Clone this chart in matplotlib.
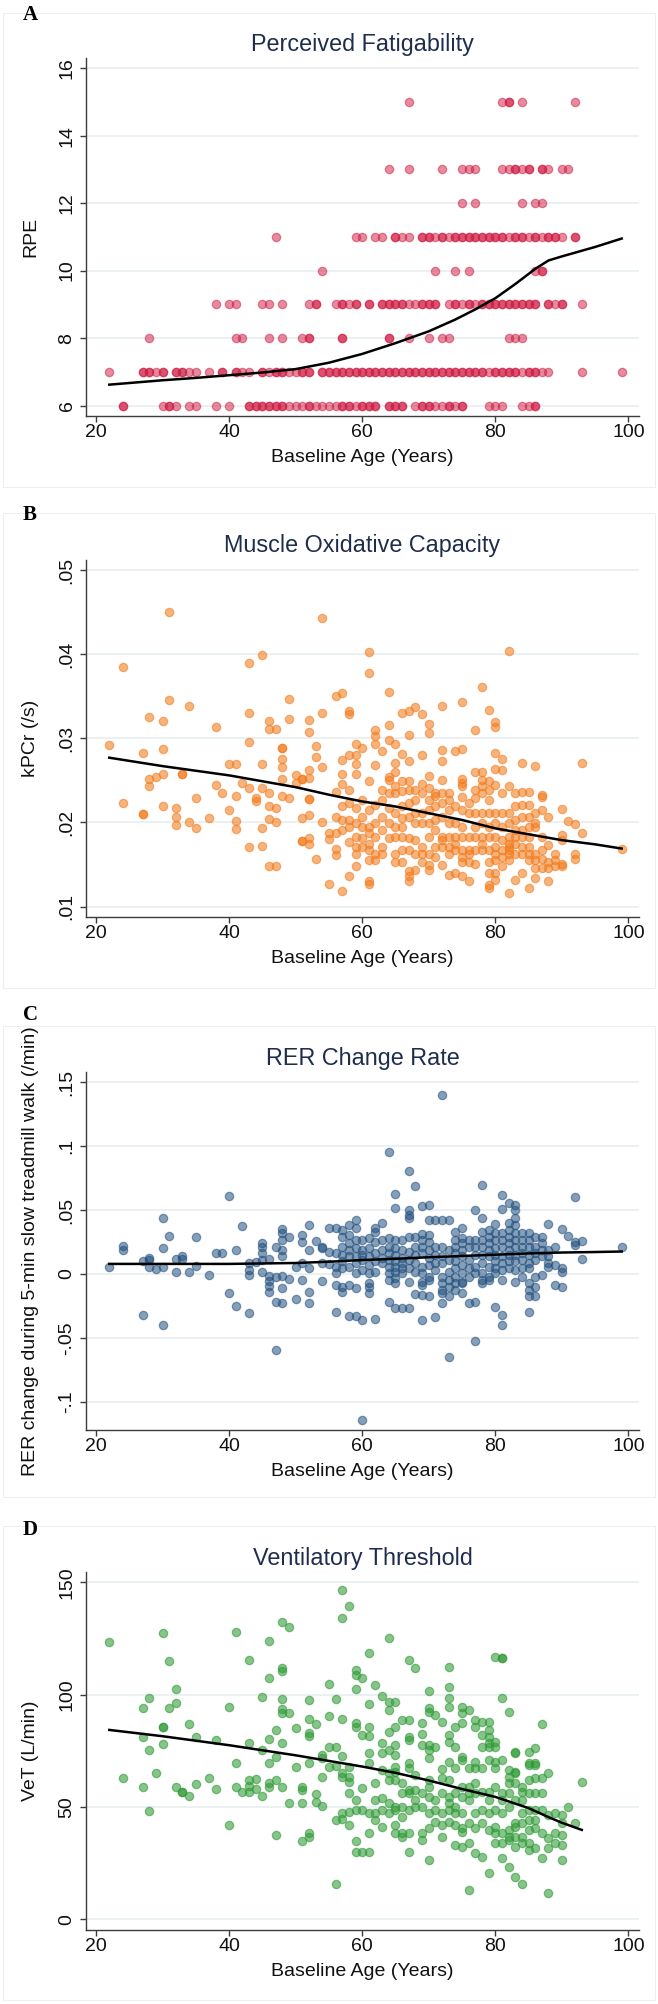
import numpy as np
import matplotlib
matplotlib.use("Agg")
import matplotlib.pyplot as plt
from matplotlib.patches import Rectangle

# ====================== DATA ======================
x_ticks = [20, 40, 60, 80, 100]
x_ticklabels = ["20", "40", "60", "80", "100"]
x_label = "Baseline Age (Years)"

# ---- Panel A: Perceived Fatigability (RPE is integer) ----
rpe_levels_A = [6, 7, 8, 9, 10, 11, 12, 13, 15]
ages_by_rpe_A = [
    [24, 24, 30, 31, 31, 32, 34, 35, 38, 40, 43, 43, 44, 44, 45, 45, 46, 46, 47, 47, 48, 48, 49, 50,
     51, 52, 52, 53, 54, 55, 56, 57, 57, 58, 58, 59, 60, 60, 61, 61, 62, 62, 64, 64, 65, 65, 66, 66,
     68, 69, 69, 70, 70, 71, 72, 73, 73, 74, 75, 75, 79, 80, 81, 84, 85, 86, 86],
    [22, 27, 27, 28, 28, 29, 30, 30, 32, 32, 33, 33, 34, 35, 37, 39, 39, 41, 41, 42, 43, 45, 45, 46,
     47, 47, 48, 48, 49, 50, 51, 51, 52, 52, 54, 54, 55, 55, 56, 56, 57, 57, 58, 58, 59, 59, 60, 60,
     61, 61, 62, 62, 63, 63, 64, 64, 65, 65, 66, 66, 67, 67, 68, 68, 69, 69, 70, 70, 71, 71, 72, 72,
     73, 73, 74, 74, 75, 75, 76, 76, 77, 77, 78, 78, 79, 80, 80, 81, 81, 82, 82, 83, 83, 84, 85, 85,
     86, 86, 87, 88, 93, 99],
    [28, 41, 42, 46, 48, 51, 52, 52, 57, 57, 64, 64, 67, 70, 72, 73, 82, 83, 84],
    [38, 40, 41, 45, 46, 48, 52, 53, 53, 56, 57, 57, 58, 59, 59, 61, 61, 63, 63, 64, 64, 65, 65, 66,
     66, 67, 68, 69, 69, 70, 70, 71, 71, 73, 74, 74, 75, 76, 76, 77, 78, 78, 79, 79, 80, 80, 81, 81,
     82, 82, 83, 83, 84, 84, 85, 85, 86, 86, 88, 88, 89, 90, 90, 93],
    [54, 71, 74, 76, 86, 87, 87],
    [47, 59, 60, 62, 63, 65, 65, 66, 67, 69, 69, 70, 70, 71, 72, 72, 73, 74, 74, 75, 75, 76, 76, 77,
     77, 78, 78, 79, 79, 80, 80, 81, 81, 82, 83, 83, 84, 84, 85, 86, 86, 87, 88, 88, 89, 89, 90, 92, 92],
    [75, 77, 84, 86, 87],
    [64, 67, 72, 75, 76, 77, 81, 82, 83, 83, 84, 85, 85, 87, 87, 88, 90, 91],
    [67, 81, 82, 82, 84, 92],
]
fit_age_A = [22, 30, 35, 40, 45, 50, 55, 60, 65, 70, 74, 77, 80, 83, 86, 88, 90, 95, 99]
fit_rpe_A = [6.62, 6.75, 6.82, 6.9, 6.98, 7.08, 7.27, 7.53, 7.85, 8.2, 8.55, 8.85, 9.18, 9.6, 10.05,
             10.3, 10.42, 10.7, 10.95]

# ---- Panel B: Muscle Oxidative Capacity, kPCr (values in 1/1000 s^-1) ----
ages_B = [22, 24, 27, 28, 29, 30, 31, 32, 33, 34, 35, 37, 38, 39, 40, 41, 42, 43, 44, 45, 46, 47, 48,
          49, 50, 51, 52, 53, 54, 55, 56, 57, 58, 59, 60, 61, 62, 63, 64, 65, 66, 67, 68, 69, 70, 71,
          72, 73, 74, 75, 76, 77, 78, 79, 80, 81, 82, 83, 84, 85, 86, 87, 88, 89, 90, 91, 92, 93, 99]
kpcr_B_milli = [
    [29.2], [38.5, 22.3], [28.3, 21.0, 21.0], [32.5, 25.2, 24.3], [25.4], [32.1, 28.7, 25.8, 22.0],
    [45.0, 34.6], [21.7, 20.7, 19.7], [25.8, 25.8], [33.8, 20.0], [22.9, 19.4], [20.5], [31.4, 24.4],
    [23.5], [27.0, 21.5], [27.0, 23.2, 20.2, 19.2], [24.7], [38.9, 33.0, 29.6, 24.1, 17.1],
    [22.9, 22.5], [39.9, 27.0, 24.1, 19.4, 17.2], [32.1, 31.1, 23.5, 21.9, 20.4, 14.8],
    [31.1, 21.7, 20.0, 14.8], [28.8, 28.8, 27.6, 26.6, 25.2, 23.1], [34.7, 32.3, 22.9], [25.6, 24.7],
    [25.2, 25.2, 20.5, 17.8, 17.8], [32.2, 30.7, 26.2, 25.3, 22.8, 22.8, 20.9, 18.1, 17.5],
    [29.1, 27.8, 15.7], [44.3, 33.0, 26.6, 20.1], [18.8, 18.0, 12.7],
    [35.0, 23.6, 20.7, 18.7, 16.9, 16.1],
    [35.4, 27.4, 25.8, 24.6, 21.9, 20.3, 19.1, 11.8],
    [33.2, 32.9, 28.0, 23.9, 22.3, 20.3, 19.5, 17.7, 13.6],
    [29.3, 28.0, 27.0, 25.8, 21.7, 19.9, 18.3, 17.1, 16.3, 14.8],
    [28.8, 22.7, 20.7, 19.5, 18.1, 17.1],
    [40.3, 37.8, 24.9, 21.5, 19.5, 18.7, 17.5, 16.7, 15.5, 13.1, 12.7],
    [31.0, 30.3, 29.3, 26.8, 22.1, 19.9, 18.3, 16.3, 15.5],
    [28.5, 23.9, 22.7, 20.7, 19.1, 17.1, 16.3],
    [35.5, 31.6, 29.8, 25.4, 25.0, 23.5, 21.7, 19.9, 18.1],
    [29.3, 27.1, 26.0, 24.3, 23.5, 21.1, 19.5, 18.3, 16.3, 15.3],
    [33.0, 28.1, 24.9, 23.7, 21.9, 20.5, 19.5, 18.3, 16.7, 15.3],
    [33.2, 30.4, 27.3, 24.9, 23.9, 22.3, 20.7, 18.1, 16.7, 14.2, 13.6, 13.0],
    [33.7, 23.9, 22.7, 21.1, 19.9, 17.9, 16.3, 14.4],
    [32.9, 28.0, 24.6, 23.5, 21.1, 19.9, 17.1, 16.3, 15.3],
    [31.7, 30.6, 25.5, 24.1, 22.7, 21.5, 19.9, 18.3, 16.3, 15.0, 14.4],
    [23.5, 23.1, 21.9, 20.3, 19.1, 17.1, 15.9],
    [33.8, 28.6, 27.3, 25.0, 23.5, 22.3, 20.7, 18.3, 17.9, 17.1, 15.0],
    [23.5, 22.7, 21.5, 19.9, 18.3, 17.1, 16.3, 13.8],
    [28.5, 21.9, 19.9, 18.3, 17.5, 16.7, 14.0],
    [34.3, 28.7, 25.2, 24.7, 24.3, 23.0, 21.5, 19.5, 18.3, 16.7, 15.9, 15.3, 13.6],
    [22.3, 21.1, 18.3, 16.7, 16.3, 15.3, 13.0],
    [31.0, 26.0, 23.9, 22.9, 21.1, 19.5, 18.3, 16.7, 15.1],
    [36.1, 26.0, 25.0, 24.3, 23.5, 21.1, 19.9, 18.3, 17.5, 16.7],
    [33.4, 24.9, 23.9, 22.7, 21.1, 19.5, 18.3, 16.7, 15.3, 14.0, 12.6, 12.2],
    [32.0, 31.3, 28.3, 26.4, 24.5, 21.1, 19.9, 18.3, 17.1, 16.3, 15.5, 14.0, 13.2],
    [27.5, 26.2, 23.5, 21.1, 19.5, 17.9, 16.7, 15.9, 14.8],
    [40.4, 24.3, 21.1, 19.9, 18.3, 17.5, 17.1, 16.7, 16.3, 15.5, 11.6],
    [23.5, 21.9, 20.3, 19.1, 18.3, 17.5, 16.3, 13.2],
    [27.1, 23.6, 22.1, 20.7, 19.1, 18.3, 17.1, 16.3, 14.0],
    [23.6, 22.1, 20.7, 19.5, 18.3, 17.1, 16.3, 15.5, 12.2],
    [26.7, 21.1, 19.9, 19.5, 16.3, 15.5, 14.6, 13.4],
    [23.3, 23.0, 21.5, 18.3, 16.7, 15.7, 14.6],
    [20.7, 17.3, 15.3, 14.6, 13.0], [16.3, 15.5, 14.8], [21.6, 18.5, 17.9, 15.1, 14.8], [20.2],
    [19.8, 16.3, 15.7], [27.1, 18.7], [16.8],
]
fit_age_B = [22, 30, 40, 50, 55, 60, 65, 70, 75, 80, 85, 90, 95, 99]
fit_kpcr_B_milli = [27.7, 26.7, 25.6, 24.2, 23.3, 22.5, 21.9, 21.1, 20.3, 19.3, 18.6, 17.9, 17.4, 16.9]

# ---- Panel C: RER change rate (values in 1/1000 per min) ----
ages_C = [22, 24, 27, 28, 29, 30, 31, 32, 33, 34, 35, 37, 38, 39, 40, 41, 42, 43, 44, 45, 46, 47, 48,
          49, 50, 51, 52, 53, 54, 55, 56, 57, 58, 59, 60, 61, 62, 63, 64, 65, 66, 67, 68, 69, 70, 71,
          72, 73, 74, 75, 76, 77, 78, 79, 80, 81, 82, 83, 84, 85, 86, 87, 88, 89, 90, 91, 92, 93, 99]
rer_C_milli = [
    [5.0], [21.9, 18.3], [10, -32], [12.8, 11, 5], [4], [43.9, 20, 5, -40], [30], [11.5, 1.3],
    [13.6, 11.5], [1.3], [29, 6.3], [-1], [16], [16], [61, -14.6], [19, -25], [37.6],
    [8.4, 3.1, -1, -30.8], [9.4], [23.8, 21.4, 16.2, 11, 1.8], [11.5, -1.6, -5.2, -9.4, -13.8],
    [21.4, -2.6, -21.7, -59.5], [35.5, 31.9, 26.6, 18.8, 13.6, -2, -11.2, -23], [28.7, -4.2],
    [5.7, -20], [30.5, 25.3, 8.4, -4.7], [38, 18.8, 4.4, -13.8, -23], [25.6], [21.4, 20, 8.4, -5.2],
    [35.8, 17.5, 7.6],
    [35.7, 16.2, 5.2, 0.5, -8.6, -29.5],
    [34.4, 29.2, 21.4, 14.9, 9.7, 4.4, -9.9, -13.8],
    [38.4, 30.5, 24, 18.8, 13.6, 5.7, -9.1, -32.9],
    [42.3, 35.7, 26.6, 20, 13.6, 8.3, 0.5, -11.2, -32.9],
    [26.6, 18.8, 14.9, 11, 3.1, -36, -114],
    [27.9, 20, 13.6, 7, 0.5, -7.3, -9.9, -15.1],
    [35.7, 33.1, 25.3, 16.2, 9.7, 1.8, -35],
    [39.7, 26.6, 18.8, 12.3, 8.3],
    [95.2, 27.9, 21.4, 16.2, 11, 5.7, 0.5, -4.7, -22.2],
    [62.6, 51.4, 26.6, 20, 14.9, 9.7, 5.7, 1.8, -3.4, -7.3, -26.9],
    [26.6, 18.8, 12.3, 8.3, 4.4, 0.5, -26.9],
    [80.4, 49.6, 46.2, 43.6, 29.2, 17.5, 11, 4.4, -6.5, -26.9],
    [69.1, 29.2, 21.4, 14.9, 8.3, 1.8, -15.7],
    [53.5, 31.3, 26.6, 21.4, 16.2, 5.7, 0.5, -6, -8.6, -16.4, -36],
    [54, 42.3, 30.5, 25.3, 18.8, 12.3, 7, -2.1, -4.7, -17.7],
    [42.3, 21.4, 14.9, 8.3, 3.1, -33.4],
    [140, 42.3, 21.4, 13.6, 8.3, -2.1, -7.3, -12.5, -15.1, -23],
    [42.3, 18.8, 11, 1.8, -4.7, -9.9, -17.7, -64.8],
    [33.1, 26.6, 21.4, 16.2, 9.7, 4.4, -2.1, -7.3, -12.5],
    [35.7, 27.9, 24, 18.8, 13.6, 7, 0.5, -6, -7.3, -15.1],
    [26.6, 21.4, 11, 4.4, -2.1, -23],
    [50.1, 26.6, 21.4, 14.9, 5.7, 0.5, -21.7, -52.5],
    [69.7, 43.6, 33.1, 26.6, 21.4, 14.9, 8.3, 0.5, -4.7, -7.3],
    [34.4, 29.2, 24, 18.8, 13.6, 5.7, -2.1, -4.7],
    [39.1, 31.8, 26.6, 20, 14.9, 9.7, 4.4, 0.5, -25.6],
    [61.8, 50.9, 31.8, 26.6, 21.4, 13.6, 8.3, 3.1, -4.7, -32, -40],
    [55.3, 39.7, 34.4, 29.2, 24, 18.8, 14.9, 9.7, 4.4],
    [54, 50.1, 43.6, 38.4, 31.8, 26.6, 21.4, 14.9, 9.7, 3.1, -6],
    [31.8, 26.6, 21.4, 16.2, 11, 4.4, -2.1],
    [31.8, 26.6, 21.4, 14.9, 8.3, 4.4, -7.3, -12.5, -17.7, -29.5],
    [29.2, 21.4, 16.2, 11, -2.1, -9.9, -17.7],
    [29.2, 24, 18.8, 13.6, -0.8],
    [38.9, 18.8, 13.6, 8.3, 5.7], [20.9, 7, -9.1], [35, 4.4, 1.8, -10.4], [29.7],
    [60.5, 25.3, 22.7], [26.1, 12], [20.9],
]
fit_age_C = [22, 30, 40, 50, 55, 60, 65, 70, 75, 80, 85, 90, 95, 99]
fit_rer_C_milli = [7.8, 7.8, 7.8, 8.5, 9.5, 10.8, 11.8, 13.0, 14.0, 15.0, 16.0, 16.7, 17.1, 17.5]

# ---- Panel D: Ventilatory Threshold (L/min) ----
ages_D = [22, 24, 27, 28, 29, 30, 31, 32, 33, 34, 35, 37, 38, 40, 41, 42, 43, 44, 45, 46, 47, 48, 49,
          50, 51, 52, 53, 54, 55, 56, 57, 58, 59, 60, 61, 62, 63, 64, 65, 66, 67, 68, 69, 70, 71, 72,
          73, 74, 75, 76, 77, 78, 79, 80, 81, 82, 83, 84, 85, 86, 87, 88, 89, 90, 91, 92, 93]
vet_D = [
    [123.6], [63], [94.2, 81, 59], [98.4, 75.4, 48], [65], [127.3, 85.5, 85.5, 77.9], [115, 94.2],
    [102.4, 96.3, 58.8], [56.7, 56.7], [87, 54.9], [81.2, 60.2], [63], [79.8, 58.2], [94.7, 42],
    [127.7, 69.4, 58.8], [56.7], [115.4, 78.3, 62, 59.3, 56.7], [62.3, 58.2], [98.8, 75.4, 54.9],
    [124, 107.3, 80.3, 69.4, 60.5, 58.8], [84.3, 72.4, 62, 37.5],
    [132.5, 111.7, 110.7, 97.9, 93.5, 92, 78.6, 58.8], [130, 91.7, 51.9], [85, 68],
    [58.8, 57.6, 51.9, 35], [97.6, 89, 82.8, 81.6, 69.4, 38.3, 36.8], [86.8, 56, 52.4],
    [73.1, 71.6, 63.5, 50.4], [104.6, 90.5, 76.9, 68], [97.9, 76.9, 68.2, 44.2, 15.6],
    [146.6, 134.3, 89.2, 72.8, 65.0, 63.5, 47.2, 44.5],
    [139.5, 68.0, 63.5, 61.3, 56.1, 47.9, 42.0],
    [111.0, 108.8, 102.4, 87.5, 85.8, 53.1, 48.7, 35.0, 30.1],
    [107.3, 82.0, 58.3, 48.7, 30.1],
    [118.7, 95.8, 85.8, 81.8, 73.9, 69.4, 47.2, 38.3, 30.1],
    [104.3, 60.5, 53.1, 47.2, 44.2],
    [99.4, 78.3, 73.9, 66.5, 53.9, 48.7, 41.2],
    [125.1, 96.9, 93.2, 83.5, 75.4, 65.0, 62.0, 51.6, 47.2],
    [96.7, 85.8, 77.4, 73.1, 68.0, 65.7, 62.0, 50.1, 48.7, 42.0, 38.3],
    [88.7, 60.5, 56.1, 50.1, 45.7, 38.3, 36.8],
    [115.4, 88.7, 81.3, 79.8, 69.4, 67.2, 57.6, 56.1, 48.7, 38.3, 30.1],
    [111.7, 64.2, 57.6, 53.1, 50.1],
    [87.2, 82.3, 77.6, 56.1, 50.1, 38.3, 35.3],
    [101.6, 93.9, 92.4, 77.6, 75.4, 71.7, 62.0, 59.1, 54.6, 47.2, 40.5, 26.4],
    [90.9, 76.9, 53.1, 48.7, 43.5],
    [88.0, 66.8, 62.8, 56.1, 47.2, 42.0, 36.8],
    [112.5, 103.6, 98.4, 94.4, 82.0, 79.1, 70.2, 62.0, 54.6, 51.6, 48.7, 43.5],
    [85.8, 76.9, 67.2, 56.1, 50.1, 47.2, 42.0, 33.1],
    [94.7, 91.7, 87.2, 72.4, 70.9, 59.1, 54.6, 47.2, 40.5, 39.0, 32.3],
    [93.2, 67.2, 59.1, 56.1, 53.1, 42.7, 33.8, 13.1],
    [88.7, 85.8, 70.2, 67.2, 60.5, 56.1, 47.2, 40.5, 29.4],
    [88.0, 82.0, 76.9, 67.2, 56.8, 48.7, 42.7, 27.9],
    [88.0, 84.3, 81.3, 78.3, 76.9, 70.9, 56.8, 53.1, 47.2, 39.8, 20.5],
    [116.9, 79.1, 76.9, 70.2, 67.2, 59.1, 48.7, 41.2, 38.3, 33.8],
    [116.5, 116.2, 98.4, 70.9, 56.1, 53.1, 47.2, 38.3, 33.8, 27.2],
    [92.4, 66.5, 63.5, 60.5, 56.1, 50.1, 39.8, 36.8, 35.3, 23.4],
    [74.6, 73.9, 65.7, 65.0, 60.5, 53.1, 42.7, 41.2, 36.8, 32.3, 18.7],
    [59.1, 56.8, 53.1, 47.2, 42.7, 36.8, 33.8, 15.7],
    [74.6, 69.4, 68.7, 62.0, 56.1, 48.7, 44.2, 39.8, 33.8, 30.9],
    [76.1, 69.4, 68.7, 62.8, 56.1, 48.7, 44.2, 40.5, 31.6],
    [86.8, 62.8, 56.1, 48.7, 38.3, 27.2],
    [65.0, 46.4, 36.1, 31.6, 11.6], [47.2, 38.3, 33.8], [46.4, 42.7, 37.5, 33.1, 26.4], [50.1],
    [42.7], [61.0],
]
fit_age_D = [22, 30, 40, 50, 55, 60, 65, 70, 75, 80, 85, 88, 90, 93]
fit_vet_D = [84.3, 81.5, 77.5, 73.0, 70.5, 68.0, 65.2, 61.8, 58.0, 54.5, 49.5, 45.5, 43.0, 39.8]

# tick labels (Stata style)
yticks_A = [6, 8, 10, 12, 14, 16]
yticklabels_A = ["6", "8", "10", "12", "14", "16"]
yticks_B = [0.01, 0.02, 0.03, 0.04, 0.05]
yticklabels_B = [".01", ".02", ".03", ".04", ".05"]
yticks_C = [-0.1, -0.05, 0, 0.05, 0.1, 0.15]
yticklabels_C = ["-.1", "-.05", "0", ".05", ".1", ".15"]
yticks_D = [0, 50, 100, 150]
yticklabels_D = ["0", "50", "100", "150"]

titles = ["Perceived Fatigability", "Muscle Oxidative Capacity", "RER Change Rate",
          "Ventilatory Threshold"]
ylabels = ["RPE", "kPCr (/s)", "RER change during 5-min slow treadmill walk (/min)", "VeT (L/min)"]
letters = ["A", "B", "C", "D"]


def flatten(groups_x, groups_y):
    xs, ys = [], []
    for gx, gy in zip(groups_x, groups_y):
        for v in gy:
            xs.append(gx)
            ys.append(v)
    return np.array(xs, float), np.array(ys, float)


# build the point sets
xa, ya = [], []
for lvl, ages in zip(rpe_levels_A, ages_by_rpe_A):
    for a in ages:
        xa.append(a)
        ya.append(lvl)
xa, ya = np.array(xa, float), np.array(ya, float)
xb, yb = flatten(ages_B, kpcr_B_milli)
yb = yb / 1000.0
xc, yc = flatten(ages_C, rer_C_milli)
yc = yc / 1000.0
xd, yd = flatten(ages_D, vet_D)

fits = [
    (fit_age_A, np.array(fit_rpe_A)),
    (fit_age_B, np.array(fit_kpcr_B_milli) / 1000.0),
    (fit_age_C, np.array(fit_rer_C_milli) / 1000.0),
    (fit_age_D, np.array(fit_vet_D)),
]
points = [(xa, ya), (xb, yb), (xc, yc), (xd, yd)]
yticks_all = [yticks_A, yticks_B, yticks_C, yticks_D]
yticklabels_all = [yticklabels_A, yticklabels_B, yticklabels_C, yticklabels_D]

# ====================== STYLE / LAYOUT ======================
plt.rcParams['font.family'] = ['Liberation Sans', 'DejaVu Sans']
W, H = 658, 2004
fig = plt.figure(figsize=(W / 100, H / 100), dpi=100)
fig.patch.set_facecolor('white')

colors = ['#cf1f45', '#f27c1e', '#23507e', '#2f9a36']
alphas = [0.52, 0.58, 0.55, 0.58]
# axes boxes in pixels: (left, top, right, bottom)
boxes = [(86, 58, 639, 415.7), (86, 560, 639, 916.7), (86, 1072, 639, 1430), (86, 1572, 639, 1930)]
ylims = [(5.7, 16.3), (0.0088, 0.0512), (-0.1222, 0.158), (-4.76, 154.6)]
title_base = [50.7, 551.7, 1065, 1565]
letter_y = [15, 515, 1015, 1530]
outer = [(3, 13, 655, 487), (3, 513, 655, 988), (3, 1026, 655, 1497), (3, 1526, 655, 2000)]

for i in range(4):
    l, t, r, b = boxes[i]
    ax = fig.add_axes([l / W, 1 - b / H, (r - l) / W, (b - t) / H])
    x, y = points[i]
    ax.scatter(x, y, s=36, color=colors[i], alpha=alphas[i], edgecolors=colors[i],
               linewidths=0.9, zorder=3)
    fx, fy = fits[i]
    ax.plot(fx, fy, color='black', lw=1.8, zorder=4)
    ax.set_xlim(18.5, 101.6)
    ax.set_ylim(*ylims[i])
    ax.set_xticks(x_ticks)
    ax.set_xticklabels(x_ticklabels)
    ax.set_yticks(yticks_all[i])
    ax.set_yticklabels(yticklabels_all[i], rotation=90, va='center')
    ax.grid(axis='y', color='#e7edf0', lw=1.2, zorder=0)
    ax.grid(axis='x', visible=False)
    ax.set_axisbelow(True)
    for s in ['top', 'right']:
        ax.spines[s].set_visible(False)
    for s in ['left', 'bottom']:
        ax.spines[s].set_color('#3c3c3c')
        ax.spines[s].set_linewidth(1.0)
    ax.tick_params(axis='both', length=4.5, width=1.0, color='#3c3c3c', labelsize=14,
                   labelcolor='#111111')
    ax.tick_params(axis='y', pad=3)
    ax.tick_params(axis='x', pad=1.5)
    ax.set_xlabel(x_label, fontsize=14, va='center', color='#111111')
    ax.xaxis.set_label_coords(0.5, -0.117)
    ax.set_ylabel(ylabels[i], fontsize=14, va='center', color='#111111')
    ax.yaxis.set_label_coords(-(86 - 31) / 553, 0.5)

    fig.text(362.5 / W, 1 - title_base[i] / H, titles[i], ha='center', va='baseline',
             fontsize=16.8, color='#1f2d4d')
    fig.text(30 / W, 1 - letter_y[i] / H, letters[i], ha='center', va='center',
             fontsize=15, fontweight='bold', family=['Liberation Serif', 'DejaVu Serif'])
    ol, ot, orr, ob = outer[i]
    fig.patches.append(Rectangle((ol / W, 1 - ob / H), (orr - ol) / W, (ob - ot) / H,
                                 transform=fig.transFigure, fill=False, edgecolor='#efefef',
                                 lw=0.8, zorder=0))

fig.savefig('out.png', dpi=100, facecolor='white')
